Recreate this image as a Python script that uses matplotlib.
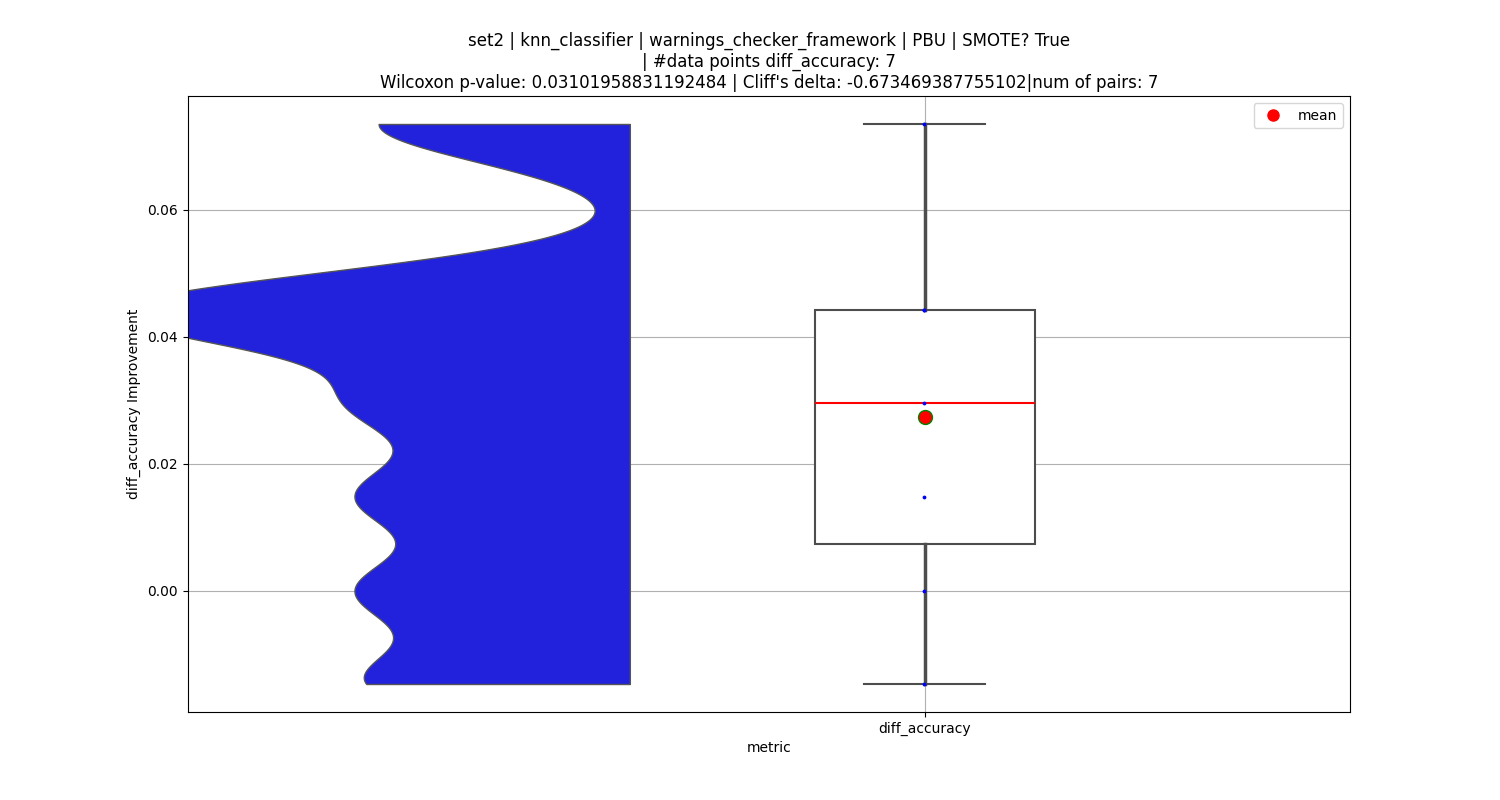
import numpy as np
import matplotlib
matplotlib.use("Agg")
import matplotlib.pyplot as plt

# diff_accuracy values (7 pairs)
values = [-0.0147, 0.0, 0.0148, 0.0295, 0.0442, 0.0442, 0.0735]
metric = "diff_accuracy"
title = ("set2 | knn_classifier | warnings_checker_framework | PBU | SMOTE? True\n"
         "| #data points diff_accuracy: 7\n"
         "Wilcoxon p-value: 0.03101958831192484 | Cliff's delta: -0.673469387755102|num of pairs: 7")

box_pos = 0.0
violin_pos = -0.536

fig, ax = plt.subplots(figsize=(15, 8), dpi=100)

# half violin (left half only)
vp = ax.violinplot([values], positions=[violin_pos], widths=1.875, bw_method=0.2,
                   showextrema=False, points=400)
for body in vp['bodies']:
    for p in body.get_paths():
        v = p.vertices
        v[:, 0] = np.minimum(v[:, 0], violin_pos)
    body.set_facecolor('#2222dd')
    body.set_edgecolor('#555555')
    body.set_linewidth(1.0)
    body.set_alpha(1)

# box
ax.boxplot([values], positions=[box_pos], widths=0.4, whis=1.5,
           patch_artist=True, showfliers=False, capwidths=0.22,
           boxprops=dict(facecolor='white', edgecolor='#4d4d4d', linewidth=1.5),
           whiskerprops=dict(color='#4d4d4d', linewidth=2.5),
           capprops=dict(color='#4d4d4d', linewidth=1.5),
           medianprops=dict(color='red', linewidth=1.5))

# raw points
ax.scatter([box_pos - 0.002] * len(values), values, s=3, color='blue', zorder=3)

# mean
ax.plot([box_pos], [np.mean(values)], 'o', color='red', markeredgecolor='green',
        markersize=10, zorder=4)
ax.plot([], [], 'o', color='red', markersize=8, linestyle='none', label='mean')

ax.set_xlim(-1.34, 0.773)
ax.set_xticks([box_pos])
ax.set_xticklabels([metric])
ax.set_xlabel('metric')
ax.set_ylabel('diff_accuracy Improvement')
ax.set_title(title, fontsize=12)
ax.grid(True)
ax.set_axisbelow(True)
ax.legend(loc='upper right')

plt.savefig('out.png')
